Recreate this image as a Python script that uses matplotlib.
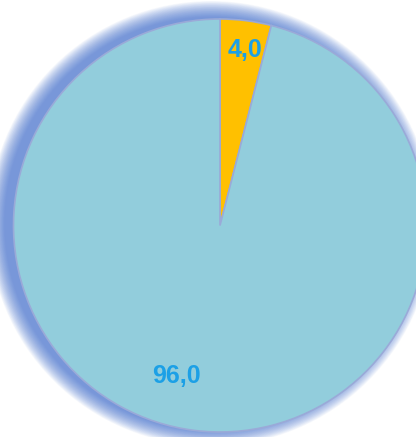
import matplotlib.pyplot as plt
from matplotlib.patches import Circle
import numpy as np

values = [4.0, 96.0]
labels = ["4,0", "96,0"]
colors = ["#FFC000", "#92CDDC"]

W, H = 416, 437
cx, cy = 220, 437 - 225.5
R = 206.5

fig = plt.figure(figsize=(W / 100, H / 100), dpi=100)
ax = fig.add_axes([0, 0, 1, 1])

# soft blue glow round the pie, shifted to the left
for w in np.linspace(16, 0, 25):
    ax.add_patch(Circle((cx - 9, cy + 2), R + w, color="#3F6FD0", alpha=0.045, lw=0, zorder=0))

wedges, _ = ax.pie(values, colors=colors, startangle=90, counterclock=False,
                   center=(cx, cy), radius=R,
                   wedgeprops=dict(edgecolor="#9AAAD8", linewidth=1.2))
for wdg in wedges:
    wdg.set_zorder(2)

label_pos = [(245, 437 - 50), (176, 437 - 376)]
for (x, y), t in zip(label_pos, labels):
    ax.text(x, y, t, ha="center", va="center", fontsize=18, fontweight="bold",
            family="Liberation Sans", color="#1CA0E6", zorder=3)

ax.set_xlim(0, W)
ax.set_ylim(0, H)
ax.set_aspect("auto")
ax.axis("off")

fig.savefig("out.png", dpi=100)
